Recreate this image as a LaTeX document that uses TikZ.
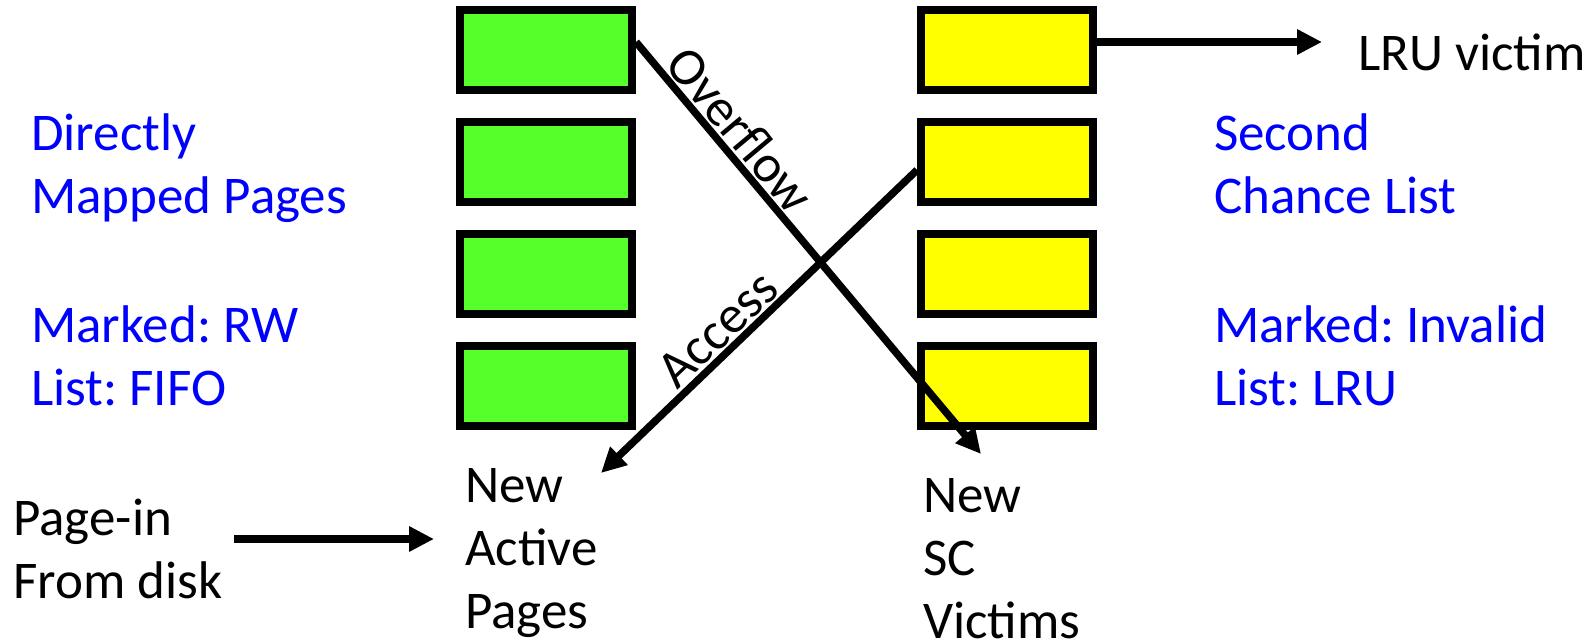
\documentclass[tikz,border=0pt]{standalone}
\usepackage{fontspec}
\setmainfont{Carlito}
\usetikzlibrary{arrows.meta,calc}
\definecolor{pagegreen}{RGB}{85,255,42}
\definecolor{pageyellow}{RGB}{255,255,0}
\definecolor{labelblue}{RGB}{0,0,255}
\frenchspacing
\begin{document}
\begin{tikzpicture}[x=1pt,y=-1pt,
  pagebox/.style={draw=black,line width=8pt,minimum width=172pt,minimum height=80pt,inner sep=0pt},
  activebox/.style={pagebox,fill=pagegreen},
  scbox/.style={pagebox,fill=pageyellow},
  txt/.style={font=\fontsize{53}{63}\selectfont,align=left,inner sep=0pt,anchor=base west},
  bluetxt/.style={txt,text=labelblue},
  flow/.style={line width=7.5pt,-{Triangle[length=25pt,width=24pt]}},
  tag/.style={font=\fontsize{53}{63}\selectfont,sloped,inner sep=2pt}]
\useasboundingbox (0,0) rectangle (1594,643);

% active list (green) and second chance list (yellow)
\foreach \i/\y in {1/50,2/162,3/274,4/386}{
  \node[activebox] (g\i) at (546,\y) {};
  \node[scbox] (s\i) at (1007,\y) {};
}

% descriptive labels (anchored at the baseline of the last line)
\node[bluetxt] (dmp) at (31,213) {Directly\\Mapped Pages};
\node[bluetxt] (dmpinfo) at (31,405) {Marked: RW\\List: FIFO};
\node[bluetxt] (scl) at (1214,213) {Second\\Chance List};
\node[bluetxt] (sclinfo) at (1214,405) {Marked: Invalid\\List: LRU};

\node[txt] (lru) at (1358,70) {LRU victim};
\node[txt] (pagein) at (13,598) {Page-in\\From disk};
\node[txt] (newact) at (465,628) {New\\Active\\Pages};
\node[txt] (newsc) at (923,638) {New\\SC\\Victims};

% arrow end points
\coordinate (lruend) at (1322,42);
\coordinate (ovend) at (981,454);
\coordinate (acend) at (601,473);
\coordinate (pinstart) at (234,539);
\coordinate (pinend) at (434,539);

% transitions
\draw[flow] ($(s1.east)+(-6,-8)$) -- (lruend);
\draw[flow] ($(g1.east)+(0,-8)$) -- node[tag,pos=0.25,above] (ovlabel) {Overflow} (ovend);
\draw[flow] ($(s2.west)+(0,8)$) -- node[tag,pos=0.58,above] (aclabel) {Access} (acend);
\draw[flow] (pinstart) -- (pinend);
\end{tikzpicture}
\end{document}
